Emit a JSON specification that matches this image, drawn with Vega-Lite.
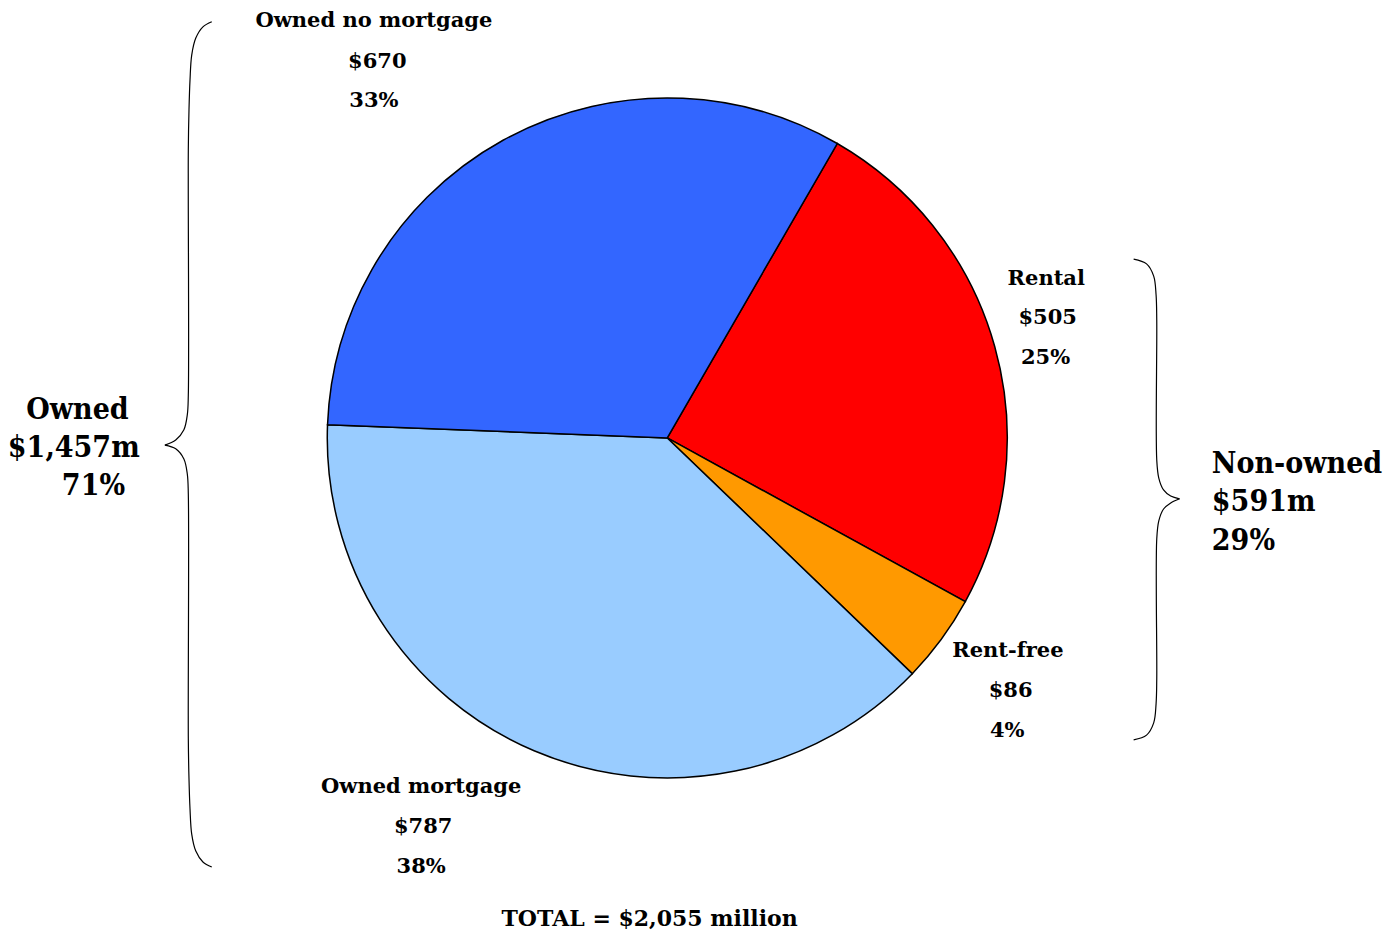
{
  "$schema": "https://vega.github.io/schema/vega-lite/v6.json",
  "width": 1393,
  "height": 932,
  "autosize": {"type": "none"},
  "padding": 0,
  "background": "white",
  "config": {"view": {"stroke": null}},
  "datasets": {
    "slices": [
      {"category": "Rental", "value": 505, "order": 1},
      {"category": "Rent-free", "value": 86, "order": 2},
      {"category": "Owned mortgage", "value": 787, "order": 3},
      {"category": "Owned no mortgage", "value": 670, "order": 4}
    ],
    "labels": [
      {"kind": "slice", "text": "Owned no mortgage", "x": -86.3, "y": 122.5},
      {"kind": "slice", "text": "$670", "x": -85.3, "y": 110.6},
      {"kind": "slice", "text": "33%", "x": -86.3, "y": 99.1},
      {"kind": "slice", "text": "Rental", "x": 111.5, "y": 46.6},
      {"kind": "slice", "text": "$505", "x": 111.9, "y": 35.3},
      {"kind": "slice", "text": "25%", "x": 111.3, "y": 23.5},
      {"kind": "slice", "text": "Rent-free", "x": 100.2, "y": -62.7},
      {"kind": "slice", "text": "$86", "x": 101.0, "y": -74.4},
      {"kind": "slice", "text": "4%", "x": 100.0, "y": -86.2},
      {"kind": "slice", "text": "Owned mortgage", "x": -72.4, "y": -102.7},
      {"kind": "slice", "text": "$787", "x": -71.8, "y": -114.4},
      {"kind": "slice", "text": "38%", "x": -72.4, "y": -126.2},
      {"kind": "groupL", "text": "Owned", "x": -173.5, "y": 8.1},
      {"kind": "groupL", "text": "$1,457m", "x": -174.6, "y": -2.9},
      {"kind": "groupL", "text": "71%", "x": -168.8, "y": -14.2},
      {"kind": "groupR", "text": "Non-owned", "x": 160.2, "y": -7.8},
      {"kind": "groupR", "text": "$591m", "x": 160.2, "y": -18.8},
      {"kind": "groupR", "text": "29%", "x": 160.2, "y": -30.3},
      {"kind": "total", "text": "TOTAL = $2,055 million", "x": -5.2, "y": -141.5}
    ],
    "braces": [
      {"brace": "L1", "i": 1, "x": -134.0, "y": 122.4},
      {"brace": "L1", "i": 2, "x": -136.6, "y": 120.9},
      {"brace": "L1", "i": 3, "x": -138.7, "y": 117.6},
      {"brace": "L1", "i": 4, "x": -139.9, "y": 112.6},
      {"brace": "L1", "i": 5, "x": -140.4, "y": 105.3},
      {"brace": "L1", "i": 6, "x": -140.7, "y": 96.5},
      {"brace": "L1", "i": 7, "x": -140.9, "y": 84.7},
      {"brace": "L1", "i": 8, "x": -140.9, "y": 12.6},
      {"brace": "L1", "i": 9, "x": -141.2, "y": 6.8},
      {"brace": "L1", "i": 10, "x": -142.2, "y": 2.4},
      {"brace": "L1", "i": 11, "x": -144.6, "y": -0.6},
      {"brace": "L1", "i": 12, "x": -147.8, "y": -2.1},
      {"brace": "L2", "i": 1, "x": -134.0, "y": -126.2},
      {"brace": "L2", "i": 2, "x": -136.6, "y": -124.7},
      {"brace": "L2", "i": 3, "x": -138.7, "y": -121.5},
      {"brace": "L2", "i": 4, "x": -139.9, "y": -116.5},
      {"brace": "L2", "i": 5, "x": -140.4, "y": -109.1},
      {"brace": "L2", "i": 6, "x": -140.7, "y": -100.3},
      {"brace": "L2", "i": 7, "x": -140.9, "y": -88.5},
      {"brace": "L2", "i": 8, "x": -140.9, "y": -16.5},
      {"brace": "L2", "i": 9, "x": -141.2, "y": -10.6},
      {"brace": "L2", "i": 10, "x": -142.2, "y": -6.2},
      {"brace": "L2", "i": 11, "x": -144.6, "y": -3.2},
      {"brace": "L2", "i": 12, "x": -147.8, "y": -2.1},
      {"brace": "R1", "i": 1, "x": 137.2, "y": 52.6},
      {"brace": "R1", "i": 2, "x": 141.0, "y": 51.2},
      {"brace": "R1", "i": 3, "x": 143.1, "y": 47.6},
      {"brace": "R1", "i": 4, "x": 143.8, "y": 42.1},
      {"brace": "R1", "i": 5, "x": 144.0, "y": 34.7},
      {"brace": "R1", "i": 6, "x": 144.0, "y": -6.5},
      {"brace": "R1", "i": 7, "x": 144.6, "y": -11.8},
      {"brace": "R1", "i": 8, "x": 146.0, "y": -15.3},
      {"brace": "R1", "i": 9, "x": 148.1, "y": -17.1},
      {"brace": "R1", "i": 10, "x": 150.7, "y": -17.9},
      {"brace": "R2", "i": 1, "x": 137.2, "y": -88.8},
      {"brace": "R2", "i": 2, "x": 141.0, "y": -87.4},
      {"brace": "R2", "i": 3, "x": 143.1, "y": -83.8},
      {"brace": "R2", "i": 4, "x": 143.8, "y": -78.2},
      {"brace": "R2", "i": 5, "x": 144.0, "y": -70.9},
      {"brace": "R2", "i": 6, "x": 144.0, "y": -29.7},
      {"brace": "R2", "i": 7, "x": 144.6, "y": -24.4},
      {"brace": "R2", "i": 8, "x": 146.0, "y": -20.9},
      {"brace": "R2", "i": 9, "x": 148.1, "y": -19.1},
      {"brace": "R2", "i": 10, "x": 150.7, "y": -17.9}
    ]
  },
  "layer": [
    {
      "data": {"name": "slices"},
      "mark": {"type": "arc", "outerRadius": 340, "stroke": "black", "strokeWidth": 1.5},
      "encoding": {
        "x": {"datum": 0, "type": "quantitative", "scale": {"domain": [-196.3, 213.5], "nice": false, "zero": false}, "axis": null},
        "y": {"datum": 0, "type": "quantitative", "scale": {"domain": [-145.3, 128.8], "nice": false, "zero": false}, "axis": null},
        "theta": {"field": "value", "type": "quantitative", "stack": true, "scale": {"range": [0.5236, 6.8068]}},
        "order": {"field": "order", "type": "quantitative"},
        "color": {
          "field": "category", "type": "nominal",
          "scale": {"domain": ["Owned no mortgage", "Rental", "Rent-free", "Owned mortgage"], "range": ["#3366FF", "#FF0000", "#FF9900", "#99CCFF"]},
          "legend": null
        }
      }
    },
    {
      "data": {"name": "braces"},
      "mark": {"type": "line", "color": "black", "strokeWidth": 1.2, "interpolate": "catmull-rom"},
      "encoding": {
        "x": {"field": "x", "type": "quantitative", "axis": null},
        "y": {"field": "y", "type": "quantitative", "axis": null},
        "detail": {"field": "brace"},
        "order": {"field": "i", "type": "quantitative"}
      }
    },
    {
      "data": {"name": "labels"},
      "transform": [{"filter": "datum.kind === 'slice'"}],
      "mark": {"type": "text", "font": "DejaVu Serif", "fontWeight": "bold", "fontSize": 21, "align": "center", "baseline": "middle", "color": "black"},
      "encoding": {
        "x": {"field": "x", "type": "quantitative", "axis": null},
        "y": {"field": "y", "type": "quantitative", "axis": null},
        "text": {"field": "text"}
      }
    },
    {
      "data": {"name": "labels"},
      "transform": [{"filter": "datum.kind === 'groupL'"}],
      "mark": {"type": "text", "font": "DejaVu Serif Condensed", "fontWeight": "bold", "fontSize": 30, "align": "center", "baseline": "middle", "color": "black"},
      "encoding": {
        "x": {"field": "x", "type": "quantitative", "axis": null},
        "y": {"field": "y", "type": "quantitative", "axis": null},
        "text": {"field": "text"}
      }
    },
    {
      "data": {"name": "labels"},
      "transform": [{"filter": "datum.kind === 'groupR'"}],
      "mark": {"type": "text", "font": "DejaVu Serif Condensed", "fontWeight": "bold", "fontSize": 30, "align": "left", "baseline": "middle", "color": "black"},
      "encoding": {
        "x": {"field": "x", "type": "quantitative", "axis": null},
        "y": {"field": "y", "type": "quantitative", "axis": null},
        "text": {"field": "text"}
      }
    },
    {
      "data": {"name": "labels"},
      "transform": [{"filter": "datum.kind === 'total'"}],
      "mark": {"type": "text", "font": "DejaVu Serif", "fontWeight": "bold", "fontSize": 22, "align": "center", "baseline": "middle", "color": "black"},
      "encoding": {
        "x": {"field": "x", "type": "quantitative", "axis": null},
        "y": {"field": "y", "type": "quantitative", "axis": null},
        "text": {"field": "text"}
      }
    }
  ]
}
